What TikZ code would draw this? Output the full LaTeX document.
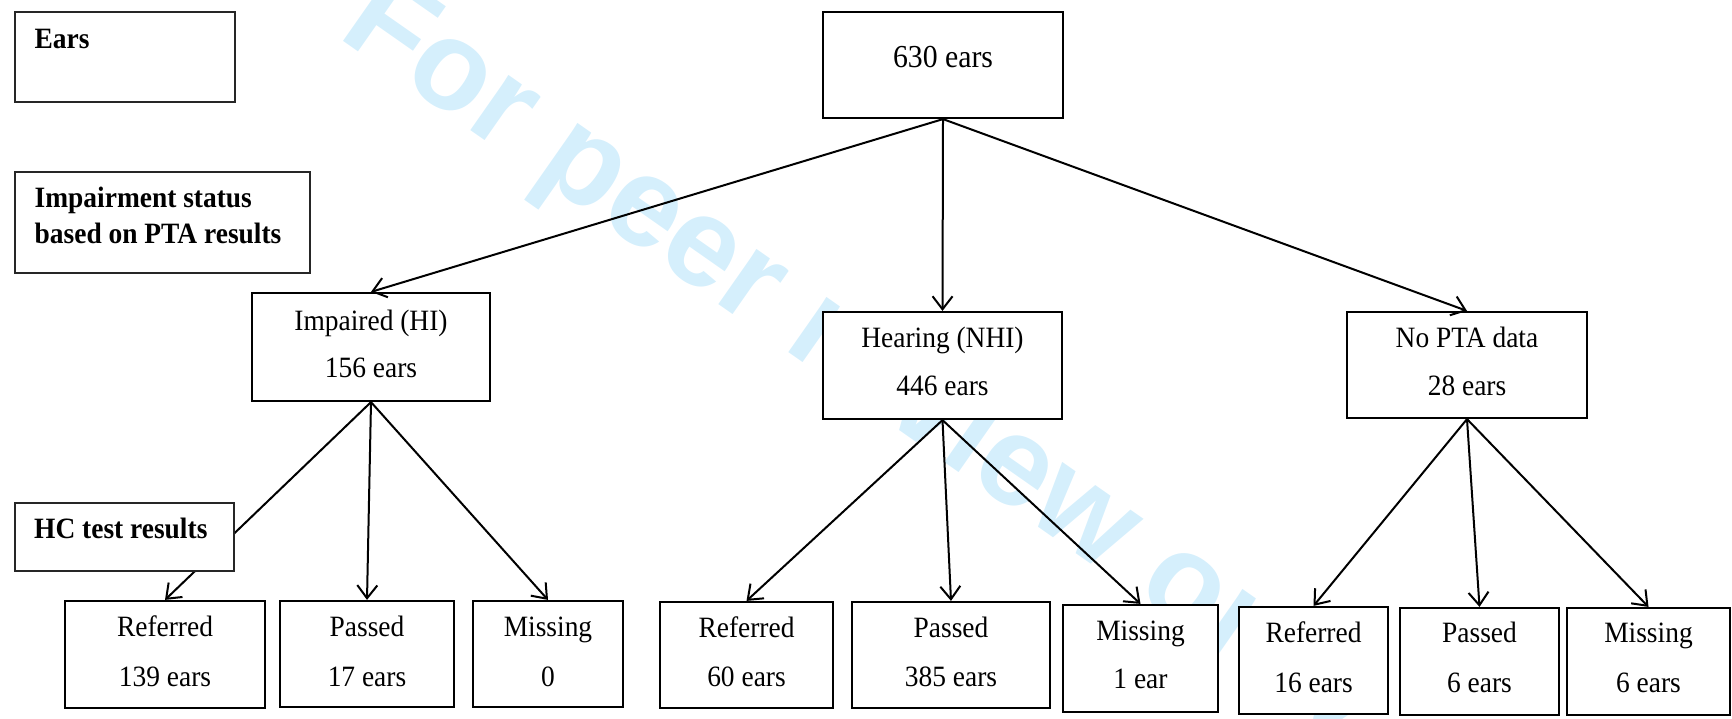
\documentclass[tikz,border=0pt]{standalone}
\usepackage{fontspec}
\setmainfont{Liberation Serif}[FakeStretch=0.93]
\newfontfamily\wmfont{Liberation Sans}
\usetikzlibrary{arrows.meta}
\definecolor{wmblue}{RGB}{213,239,252}

\begin{document}
\begin{tikzpicture}[x=1pt,y=-1pt,
  box/.style={draw, line width=2.2pt, fill=white, inner sep=0pt},
  lbox/.style={draw=black!85, line width=1.3pt, fill=white, inner sep=0pt},
  txt/.style={anchor=base, inner sep=0pt, font=\fontsize{29.5}{35}\selectfont},
  ltxt/.style={anchor=base west, inner sep=0pt, font=\fontsize{29.5}{35}\selectfont\bfseries},
  link/.style={line width=2pt, -{Straight Barb[length=13pt,width=20pt]}},
]
\useasboundingbox (0,0) rectangle (1732,718);

% watermark behind everything
\node[anchor=base west, rotate=-35, inner sep=0pt, text=wmblue,
      font=\wmfont\bfseries\fontsize{127}{127}\selectfont] (wm) at (336,36) {For peer review only};

% level 0
\node[box, minimum width=240pt, minimum height=106pt] (root) at (943,65) {};
\node[txt, font=\fontsize{32}{38}\selectfont] (rootT) at (943,67) {630 ears};

% level 1
\node[box, minimum width=238pt, minimum height=108pt] (imp) at (371,347) {};
\node[txt] (impA) at (371,330) {Impaired (HI)};
\node[txt] (impB) at (371,377) {156 ears};

\node[box, minimum width=239pt, minimum height=107pt] (hear) at (942.5,365.5) {};
\node[txt] (hearA) at (942.5,347) {Hearing (NHI)};
\node[txt] (hearB) at (942.5,395) {446 ears};

\node[box, minimum width=240pt, minimum height=106pt] (nopta) at (1467,365) {};
\node[txt] (noptaA) at (1467,347) {No PTA data};
\node[txt] (noptaB) at (1467,395) {28 ears};

% level 2
\node[box, minimum width=200pt, minimum height=107pt] (r139) at (165,654.5) {};
\node[txt] (r139A) at (165,636) {Referred};
\node[txt] (r139B) at (165,686) {139 ears};

\node[box, minimum width=174pt, minimum height=106pt] (p17) at (367,654) {};
\node[txt] (p17A) at (367,636) {Passed};
\node[txt] (p17B) at (367,686) {17 ears};

\node[box, minimum width=150pt, minimum height=106pt] (m0) at (548,654) {};
\node[txt] (m0A) at (548,636) {Missing};
\node[txt] (m0B) at (548,686) {0};

\node[box, minimum width=173pt, minimum height=106pt] (r60) at (746.5,655) {};
\node[txt] (r60A) at (746.5,637) {Referred};
\node[txt] (r60B) at (746.5,686) {60 ears};

\node[box, minimum width=198pt, minimum height=106pt] (p385) at (951,655) {};
\node[txt] (p385A) at (951,637) {Passed};
\node[txt] (p385B) at (951,686) {385 ears};

\node[box, minimum width=155pt, minimum height=107pt] (m1) at (1140.5,658.5) {};
\node[txt] (m1A) at (1140.5,640) {Missing};
\node[txt] (m1B) at (1140.5,688) {1 ear};

\node[box, minimum width=149pt, minimum height=107pt] (r16) at (1313.5,660.5) {};
\node[txt] (r16A) at (1313.5,642) {Referred};
\node[txt] (r16B) at (1313.5,692) {16 ears};

\node[box, minimum width=159pt, minimum height=107pt] (p6) at (1479.5,661.5) {};
\node[txt] (p6A) at (1479.5,642) {Passed};
\node[txt] (p6B) at (1479.5,692) {6 ears};

\node[box, minimum width=163pt, minimum height=107pt] (m6) at (1648.5,661.5) {};
\node[txt] (m6A) at (1648.5,642) {Missing};
\node[txt] (m6B) at (1648.5,692) {6 ears};

% connectors
\draw[link] (root.south) -- (imp.north);
\draw[link] (root.south) -- (hear.north);
\draw[link] (root.south) -- (nopta.north);

\draw[link] (imp.south) -- (r139.north);
\draw[link] (imp.south) -- (p17.north);
\draw[link] (imp.south) -- (m0.north);

\draw[link] (hear.south) -- (r60.north);
\draw[link] (hear.south) -- (p385.north);
\draw[link] (hear.south) -- (m1.north);

\draw[link] (nopta.south) -- (r16.north);
\draw[link] (nopta.south) -- (p6.north);
\draw[link] (nopta.south) -- (m6.north);

% row labels (drawn last so they sit on top of the connectors)
\node[lbox, minimum width=220pt, minimum height=90pt] (lvl0) at (125,57) {};
\node[ltxt] (lvl0T) at (34.5,48) {Ears};

\node[lbox, minimum width=295pt, minimum height=101pt] (lvl1) at (162.5,222.5) {};
\node[ltxt] (lvl1A) at (34.5,207) {Impairment status};
\node[ltxt] (lvl1B) at (34.5,243) {based on PTA results};

\node[lbox, minimum width=219pt, minimum height=68pt] (lvl2) at (124.5,537) {};
\node[ltxt] (lvl2T) at (34,538) {HC test results};
\end{tikzpicture}
\end{document}
